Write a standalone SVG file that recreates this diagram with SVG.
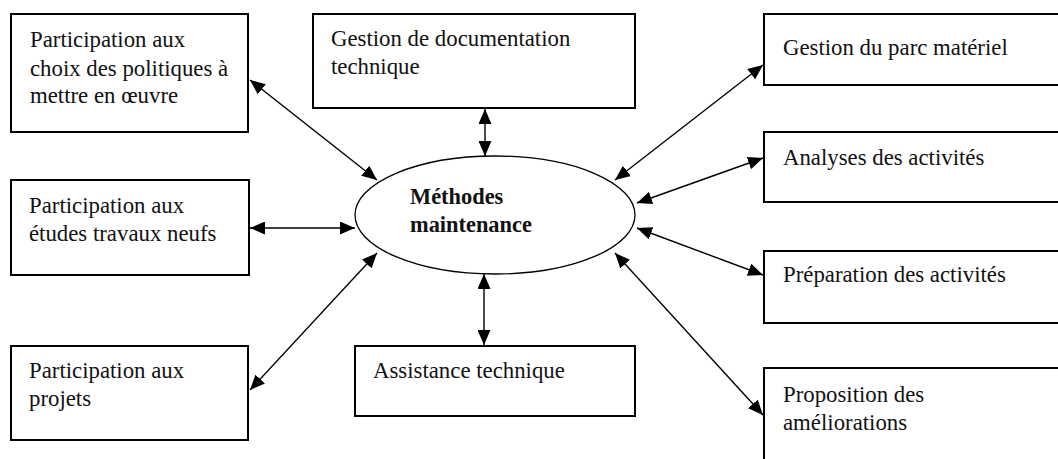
<svg xmlns="http://www.w3.org/2000/svg" width="1058" height="459" viewBox="0 0 1058 459">
  <style>
    .box { fill: #fff; stroke: #000; stroke-width: 2; }
    .hub { fill: #fff; stroke: #000; stroke-width: 1.3; }
    text { font-family: 'Liberation Serif', 'Times New Roman', 'DejaVu Serif', serif; font-size: 22.8px; fill: #111; }
    .hubl { font-weight: bold; font-size: 22.4px; }
    .link { stroke: #000; stroke-width: 1.4; fill: none; marker-start: url(#tip); marker-end: url(#tip); }
  </style>
  <defs>
    <marker id="tip" markerUnits="userSpaceOnUse" markerWidth="17" markerHeight="13" refX="15" refY="6.5" orient="auto-start-reverse">
      <path d="M0,0 L15,6.5 L0,13 z" fill="#000"/>
    </marker>
  </defs>
  <rect width="1058" height="459" fill="#fff"/>

  <g id="connectors">
    <line class="link" x1="250" y1="80" x2="377" y2="180"/>
    <line class="link" x1="250" y1="228" x2="355" y2="228"/>
    <line class="link" x1="250" y1="390" x2="377" y2="253"/>
    <line class="link" x1="485" y1="109" x2="485" y2="156"/>
    <line class="link" x1="484" y1="274" x2="484" y2="345"/>
    <line class="link" x1="615" y1="180" x2="763" y2="65"/>
    <line class="link" x1="637" y1="203" x2="763" y2="158"/>
    <line class="link" x1="637" y1="228" x2="763" y2="275"/>
    <line class="link" x1="615" y1="253" x2="763" y2="415"/>
  </g>

  <g id="methodes">
    <ellipse class="hub" cx="495" cy="215" rx="140" ry="59"/>
    <text class="hubl" x="410" y="204">Méthodes</text>
    <text class="hubl" x="410" y="232">maintenance</text>
  </g>

  <g id="choix-politiques">
    <rect class="box" x="11" y="14" width="237" height="118"/>
    <text x="30" y="47">Participation aux</text>
    <text x="30" y="76">choix des politiques à</text>
    <text x="30" y="103">mettre en œuvre</text>
  </g>

  <g id="travaux-neufs">
    <rect class="box" x="11" y="180" width="238" height="95"/>
    <text x="29" y="213">Participation aux</text>
    <text x="29" y="241">études travaux neufs</text>
  </g>

  <g id="projets">
    <rect class="box" x="11" y="346" width="237" height="94"/>
    <text x="29" y="378">Participation aux</text>
    <text x="29" y="406">projets</text>
  </g>

  <g id="documentation">
    <rect class="box" x="313" y="14" width="322" height="94"/>
    <text x="331" y="46">Gestion de documentation</text>
    <text x="331" y="74">technique</text>
  </g>

  <g id="assistance">
    <rect class="box" x="355" y="346" width="280" height="70"/>
    <text x="373" y="378">Assistance technique</text>
  </g>

  <g id="parc-materiel">
    <rect class="box" x="764" y="14" width="310" height="71"/>
    <text x="783" y="55">Gestion du parc matériel</text>
  </g>

  <g id="analyses">
    <rect class="box" x="764" y="132" width="310" height="70"/>
    <text x="783" y="165">Analyses des activités</text>
  </g>

  <g id="preparation">
    <rect class="box" x="764" y="251" width="310" height="72"/>
    <text x="783" y="282">Préparation des activités</text>
  </g>

  <g id="ameliorations">
    <rect class="box" x="764" y="368" width="310" height="110"/>
    <text x="783" y="402">Proposition des</text>
    <text x="783" y="430">améliorations</text>
  </g>
</svg>
